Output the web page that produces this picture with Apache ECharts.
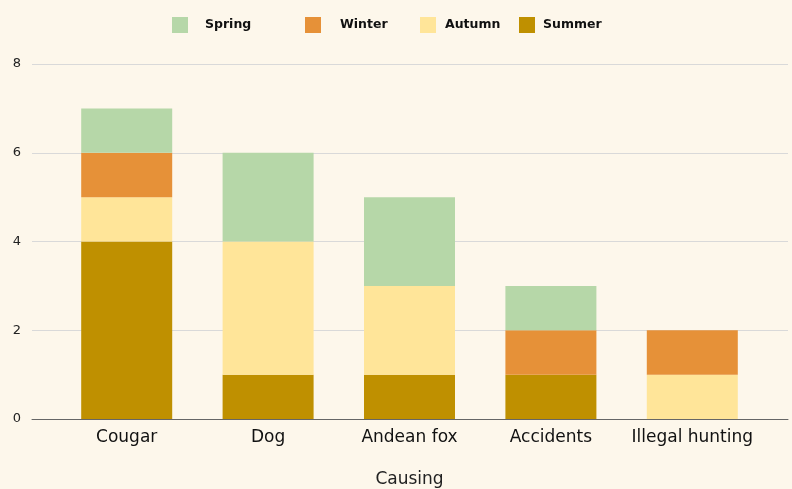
<!DOCTYPE html>
<html>
<head>
<meta charset="utf-8">
<script src="https://cdn.jsdelivr.net/npm/echarts@6/dist/echarts.min.js"></script>
<style>
  html, body { margin: 0; padding: 0; background: #fdf7eb; }
  #chart { width: 792px; height: 489px; }
</style>
</head>
<body>
<div id="chart"></div>
<script>
const categories = ['Cougar', 'Dog', 'Andean fox', 'Accidents', 'Illegal hunting']
const summer = [4, 1, 1, 1, 0]
const autumn = [1, 3, 2, 0, 1]
const winter = [1, 0, 0, 1, 1]
const spring = [1, 2, 2, 1, 0]
const yTicks = [0, 2, 4, 6, 8]

const colors = { Summer: '#bf9000', Autumn: '#ffe599', Winter: '#e69138', Spring: '#b6d7a8' }
const font = 'DejaVu Sans, Verdana, sans-serif'

const chart = echarts.init(document.getElementById('chart'))

// legend items sit at uneven spots, so one legend per item
const legendSpots = [
  { name: 'Spring', left: 172, gap: 17 },
  { name: 'Winter', left: 305, gap: 19 },
  { name: 'Autumn', left: 420, gap: 9 },
  { name: 'Summer', left: 519, gap: 8 },
]

function bar(name, data) {
  return {
    name, type: 'bar', stack: 'all', data,
    xAxisIndex: 1, yAxisIndex: 1,
    barWidth: 91,
    itemStyle: { color: colors[name] },
    emphasis: { disabled: true },
  }
}

chart.setOption({
  backgroundColor: '#fdf7eb',
  animation: false,
  legend: legendSpots.map(l => ({
    data: [l.name],
    left: l.left - 5, top: 12,
    icon: 'rect', itemWidth: 16, itemHeight: 16,
    itemGap: 0,
    textStyle: { fontFamily: font, fontWeight: 'bold', fontSize: 12.5, color: '#111', padding: [0, 0, 0, l.gap - 5] },
  })),
  grid: [
    { left: 32, right: 4, top: 64, bottom: 70, outerBoundsMode: 'none', containLabel: false },
    { left: 56, right: 29, top: 64, bottom: 70, outerBoundsMode: 'none', containLabel: false },
  ],
  xAxis: [
    {
      gridIndex: 0, type: 'category', data: [''],
      axisLine: { lineStyle: { color: '#666', width: 1 } },
      axisTick: { show: false }, axisLabel: { show: false },
    },
    {
      gridIndex: 1, type: 'category', data: categories,
      name: 'Causing', nameLocation: 'middle', nameGap: 52,
      nameTextStyle: { fontFamily: font, fontSize: 17, color: '#222' },
      axisLine: { show: false }, axisTick: { show: false },
      axisLabel: { fontFamily: font, fontSize: 17, color: '#111', margin: 10, interval: 0, hideOverlap: false },
    },
  ],
  yAxis: [
    {
      gridIndex: 0, type: 'value', min: 0, max: 8, interval: 2,
      axisLine: { show: false }, axisTick: { show: false },
      axisLabel: {
        fontFamily: font, fontSize: 13, color: '#222', margin: 11,
        formatter: v => yTicks.includes(v) ? v : '',
      },
      splitLine: { lineStyle: { color: '#d9d9d9', width: 1 } },
    },
    {
      gridIndex: 1, type: 'value', min: 0, max: 8, interval: 2,
      show: false, splitLine: { show: false },
    },
  ],
  series: [
    bar('Summer', summer),
    bar('Autumn', autumn),
    bar('Winter', winter),
    bar('Spring', spring),
  ],
})
</script>
</body>
</html>
